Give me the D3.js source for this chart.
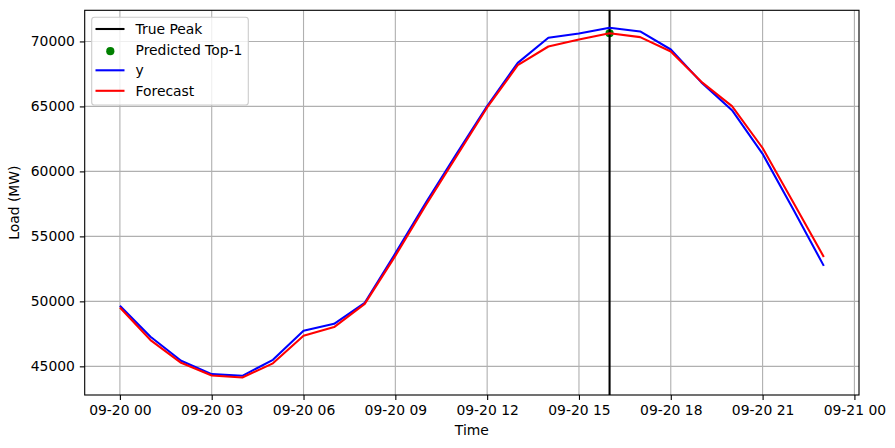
<!DOCTYPE html>
<html>
<head>
<meta charset="utf-8">
<script src="https://cdn.jsdelivr.net/npm/d3@7"></script>
<style>
  html, body { margin: 0; padding: 0; background: #fff; }
  svg { display: block; font-family: "DejaVu Sans", sans-serif; }
</style>
</head>
<body>
<svg id="chart" width="895" height="448"></svg>
<script>
// ---- Data ----
const hours = d3.range(0, 24);
const actual = [49660, 47280, 45430, 44400, 44270, 45500, 47730, 48270, 49890, 53690,
                57600, 61350, 65020, 68350, 70280, 70610, 71050, 70770, 69380, 66850,
                64710, 61350, 57080, 52730];
const forecast = [49530, 47020, 45270, 44300, 44140, 45230, 47350, 48020, 49810, 53500,
                  57420, 61170, 64920, 68170, 69610, 70150, 70630, 70330, 69230, 66890,
                  65020, 61800, 57620, 53420];
const truePeakHour = 16;
const predictedTopHour = 16;
const yTicks = [45000, 50000, 55000, 60000, 65000, 70000];
const legendLabels = ["True Peak", "Predicted Top-1", "y", "Forecast"];

const times = hours.map(h => new Date(Date.UTC(2023, 8, 20, h)));

// ---- Layout ----
const svg = d3.select("#chart");
const L = 84.7, R = 859, T = 10.3, B = 395;
const LW = 2.08, GW = 1.11;

const xMin = times[0], xMax = times[times.length - 1];
const xPad = (xMax - xMin) * 0.05;
const x = d3.scaleUtc()
  .domain([new Date(+xMin - xPad), new Date(+xMax + xPad)])
  .range([L, R]);

const allV = actual.concat(forecast);
const vMin = d3.min(allV), vMax = d3.max(allV);
const vPad = (vMax - vMin) * 0.05;
const y = d3.scaleLinear().domain([vMin - vPad, vMax + vPad]).range([B, T]);

const xTickVals = d3.utcHour.every(3).range(new Date(Date.UTC(2023, 8, 20, 0)), new Date(Date.UTC(2023, 8, 21, 1)));
const fmt = d3.utcFormat("%m-%d %H");

// grid
const grid = svg.append("g");
xTickVals.forEach(t => {
  grid.append("line").attr("x1", x(t)).attr("x2", x(t)).attr("y1", T).attr("y2", B)
    .attr("stroke", "#b0b0b0").attr("stroke-width", GW);
});
yTicks.forEach(v => {
  grid.append("line").attr("x1", L).attr("x2", R).attr("y1", y(v)).attr("y2", y(v))
    .attr("stroke", "#b0b0b0").attr("stroke-width", GW);
});

// clip
svg.append("clipPath").attr("id", "clip").append("rect")
  .attr("x", L).attr("y", T).attr("width", R - L).attr("height", B - T);
const plot = svg.append("g").attr("clip-path", "url(#clip)");

// predicted top-1 scatter
plot.append("circle")
  .attr("cx", x(times[predictedTopHour]))
  .attr("cy", y(forecast[predictedTopHour]))
  .attr("r", 4.1).attr("fill", "green");

// true peak vertical line
plot.append("line")
  .attr("x1", x(times[truePeakHour])).attr("x2", x(times[truePeakHour]))
  .attr("y1", T).attr("y2", B)
  .attr("stroke", "black").attr("stroke-width", LW);

const line = d3.line().x((d, i) => x(times[i])).y(d => y(d));
plot.append("path").datum(actual).attr("d", line)
  .attr("fill", "none").attr("stroke", "blue").attr("stroke-width", LW)
  .attr("stroke-linejoin", "round").attr("stroke-linecap", "butt");
plot.append("path").datum(forecast).attr("d", line)
  .attr("fill", "none").attr("stroke", "red").attr("stroke-width", LW)
  .attr("stroke-linejoin", "round").attr("stroke-linecap", "butt");

// axes frame
svg.append("rect").attr("x", L).attr("y", T).attr("width", R - L).attr("height", B - T)
  .attr("fill", "none").attr("stroke", "black").attr("stroke-width", GW);

// x axis
const xAxis = d3.axisBottom(x).tickValues(xTickVals).tickFormat(fmt)
  .tickSize(4.9).tickPadding(4.9);
const gx = svg.append("g").attr("transform", `translate(0,${B})`).call(xAxis);
gx.select(".domain").remove();
gx.selectAll("line").attr("stroke", "black").attr("stroke-width", GW);
gx.selectAll("text").attr("fill", "black").style("font-size", "13.9px")
  .style("font-family", "'DejaVu Sans', sans-serif");

// y axis
const yAxis = d3.axisLeft(y).tickValues(yTicks).tickFormat(d3.format("d"))
  .tickSize(4.9).tickPadding(4.9);
const gy = svg.append("g").attr("transform", `translate(${L},0)`).call(yAxis);
gy.select(".domain").remove();
gy.selectAll("line").attr("stroke", "black").attr("stroke-width", GW);
gy.selectAll("text").attr("fill", "black").style("font-size", "13.9px")
  .style("font-family", "'DejaVu Sans', sans-serif");

// axis labels
svg.append("text").attr("x", (L + R) / 2).attr("y", 434.5)
  .attr("text-anchor", "middle").style("font-size", "13.9px").text("Time");
svg.append("text")
  .attr("transform", `translate(18.5,${(T + B) / 2}) rotate(-90)`)
  .attr("text-anchor", "middle").style("font-size", "13.9px").text("Load (MW)");

// legend
const lg = svg.append("g");
lg.append("rect").attr("x", 91.7).attr("y", 17.3).attr("width", 156.6).attr("height", 87.7)
  .attr("rx", 2.8).attr("fill", "white").attr("fill-opacity", 0.8)
  .attr("stroke", "#cccccc").attr("stroke-width", GW);
const rowY = [29, 49.7, 70.3, 90.8];
const kinds = [
  {type: "line", color: "black"},
  {type: "dot", color: "green"},
  {type: "line", color: "blue"},
  {type: "line", color: "red"}
];
legendLabels.forEach((lab, i) => {
  const k = kinds[i];
  if (k.type === "line") {
    lg.append("line").attr("x1", 95.5).attr("x2", 124.5).attr("y1", rowY[i]).attr("y2", rowY[i])
      .attr("stroke", k.color).attr("stroke-width", LW);
  } else {
    lg.append("circle").attr("cx", 110.3).attr("cy", rowY[i] + 1.5).attr("r", 4.1).attr("fill", k.color);
  }
  lg.append("text").attr("x", 135.5).attr("y", rowY[i] + 5)
    .style("font-size", "13.9px").attr("fill", "black").text(lab);
});
</script>
</body>
</html>
